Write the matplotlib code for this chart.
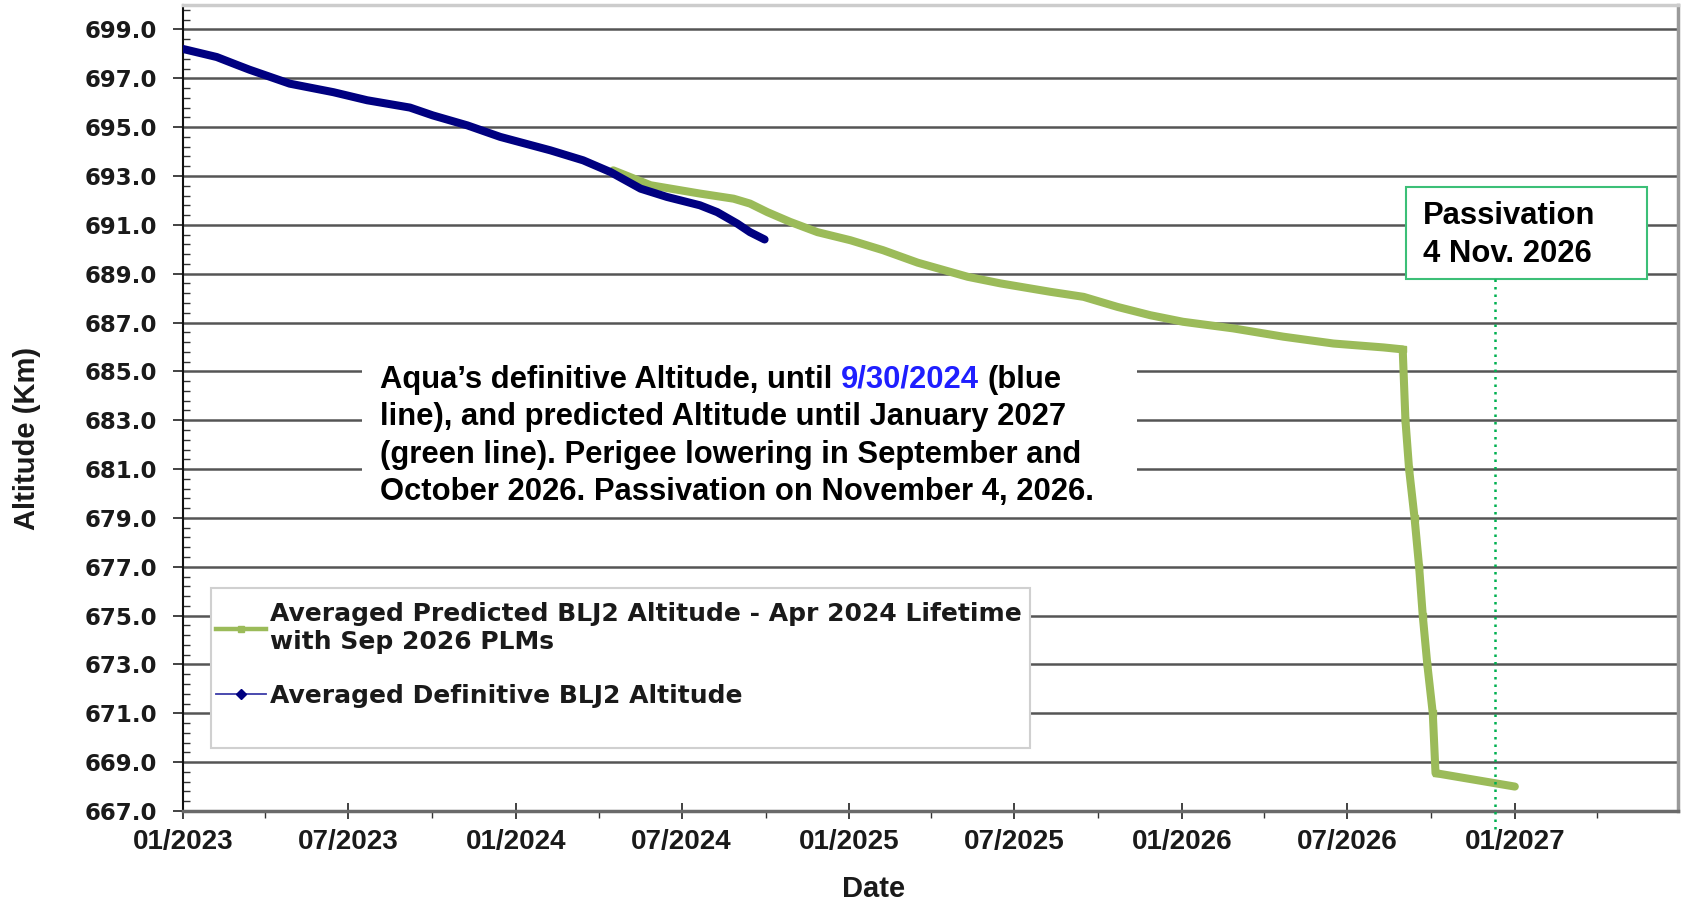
import matplotlib
matplotlib.use('Agg')
import matplotlib.pyplot as plt
import matplotlib.dates as mdates
import matplotlib.ticker as mticker
from matplotlib.patches import Rectangle
from matplotlib.lines import Line2D
import numpy as np
import pandas as pd

# ---------------- data ----------------
definitive_dates = ["2023-01-01", "2023-02-07", "2023-03-01", "2023-03-15", "2023-04-28",
                    "2023-06-15", "2023-07-22", "2023-09-07", "2023-10-02", "2023-11-09",
                    "2023-12-15", "2024-02-08", "2024-03-15", "2024-04-14", "2024-05-17",
                    "2024-06-15", "2024-07-21", "2024-08-09", "2024-08-31", "2024-09-14",
                    "2024-09-30"]
definitive_alt = [698.2, 697.87, 697.55, 697.35, 696.78,
                  696.43, 696.1, 695.8, 695.48, 695.07,
                  694.6, 694.05, 693.64, 693.16, 692.48,
                  692.14, 691.8, 691.52, 691.05, 690.7,
                  690.4]

predicted_dates = ["2024-04-17", "2024-05-28", "2024-07-21", "2024-08-27", "2024-09-14",
                   "2024-10-03", "2024-10-28", "2024-11-27", "2025-01-02", "2025-02-07",
                   "2025-03-17", "2025-04-22", "2025-05-11", "2025-06-16", "2025-08-09",
                   "2025-09-15", "2025-10-22", "2025-11-27", "2026-01-02", "2026-02-26",
                   "2026-04-22", "2026-06-16", "2026-08-10", "2026-08-31", "2026-09-03",
                   "2026-09-07", "2026-09-13", "2026-09-18", "2026-09-22", "2026-09-27",
                   "2026-10-03", "2026-10-06", "2027-01-01"]
predicted_alt = [693.23, 692.62, 692.28, 692.07, 691.87,
                 691.52, 691.12, 690.7, 690.37, 689.96,
                 689.45, 689.07, 688.87, 688.6, 688.26,
                 688.05, 687.64, 687.3, 687.03, 686.76,
                 686.42, 686.14, 685.98, 685.9, 683.0,
                 681.0, 679.0, 677.0, 675.0, 673.0,
                 671.0, 668.55, 668.0]

passivation_date = "2026-12-10"
passivation_label = "Passivation\n4 Nov. 2026"

legend_labels = ["Averaged Predicted BLJ2 Altitude - Apr 2024 Lifetime\nwith Sep 2026 PLMs",
                 "Averaged Definitive BLJ2 Altitude"]

note_lines = ["line), and predicted Altitude until January 2027",
              "(green line). Perigee lowering in September and",
              "October 2026. Passivation on November 4, 2026."]
note_first = ["Aqua\u2019s definitive Altitude, until", "9/30/2024", "(blue"]

y_ticks = np.arange(667, 700, 2)
y_minor = np.arange(667, 700.01, 0.4)

GREEN = '#9bbb59'
NAVY = '#000080'

# ---------------- figure ----------------
fig = plt.figure(figsize=(16.82, 9.02), dpi=100)
ax = fig.add_axes([183 / 1682, 91 / 902, 1495 / 1682, 806 / 902])

pred_x = pd.to_datetime(predicted_dates)
def_x = pd.to_datetime(definitive_dates)

drop_idx = list(range(23, 32))
ax.plot(pred_x, predicted_alt, color=GREEN, lw=5.8, marker='s', ms=4, markevery=drop_idx,
        solid_joinstyle='round', solid_capstyle='round', zorder=3)
ax.plot(def_x, definitive_alt, color=NAVY, lw=5.8,
        solid_joinstyle='round', solid_capstyle='round', zorder=4)

ax.set_xlim(pd.Timestamp("2023-01-01"), pd.Timestamp("2027-06-29"))
ax.set_ylim(667, 700)

# grid
ax.set_axisbelow(True)
ax.yaxis.grid(True, which='major', color='#555555', lw=1.8)

# ticks
ax.set_yticks(y_ticks)
ax.yaxis.set_minor_locator(mticker.FixedLocator(y_minor))
ax.yaxis.set_major_formatter(mticker.FormatStrFormatter('%.1f'))
ax.xaxis.set_major_locator(mdates.MonthLocator(bymonth=[1, 7]))
ax.xaxis.set_minor_locator(mdates.MonthLocator(bymonth=[4, 10]))
ax.xaxis.set_major_formatter(mdates.DateFormatter('%m/%Y'))

ax.tick_params(axis='y', which='major', direction='out', length=7.5, width=1.3,
               color='#333333', pad=11)
ax.tick_params(axis='y', which='minor', direction='in', length=5, width=1.0, color='#333333')
ax.tick_params(axis='x', which='major', direction='inout', length=11, width=1.3,
               color='#333333', pad=7.5)
ax.tick_params(axis='x', which='minor', direction='out', length=5, width=1.0, color='#333333')

for lab in ax.get_yticklabels():
    lab.set_fontfamily('DejaVu Sans')
    lab.set_fontweight('bold')
    lab.set_fontsize(16.5)
    lab.set_color('#1a1a1a')
for lab in ax.get_xticklabels():
    lab.set_fontfamily('Liberation Sans')
    lab.set_fontweight('bold')
    lab.set_fontsize(20)
    lab.set_color('#1a1a1a')

# spines
ax.spines['left'].set_color('#111111')
ax.spines['left'].set_linewidth(1.5)
ax.spines['bottom'].set_color('#6a6a6a')
ax.spines['bottom'].set_linewidth(2.5)
ax.spines['top'].set_color('#cccccc')
ax.spines['top'].set_linewidth(2.5)
ax.spines['right'].set_color('#9a9a9a')
ax.spines['right'].set_linewidth(2.5)

# axis labels
fig.text(27 / 1682, 1 - 438 / 902, "Altitude (Km)", rotation=90, ha='center', va='center',
         fontfamily='Liberation Sans', fontweight='bold', fontsize=21, color='#1a1a1a')
fig.text(874 / 1682, 1 - 889 / 902, "Date", ha='center', va='center',
         fontfamily='Liberation Sans', fontweight='bold', fontsize=21, color='#1a1a1a')

# ---------------- note box ----------------
def fx(px):
    return (px - 183) / 1495

def fy(py):
    return (811 - py) / 806

ax.add_patch(Rectangle((fx(362), fy(514)), fx(1137) - fx(362), fy(345) - fy(514),
                       transform=ax.transAxes, facecolor='white', edgecolor='none', zorder=2))
NOTE_SIZE = 22.3
note_font = dict(fontfamily='Liberation Sans', fontweight='bold', fontsize=NOTE_SIZE, color='black')
t1 = ax.text(fx(380), fy(380), note_first[0], transform=ax.transAxes, ha='left', va='center',
             zorder=6, **note_font)
t2 = ax.annotate(note_first[1], xy=(1, 0), xycoords=t1, xytext=(6, 0), textcoords='offset points',
                 ha='left', va='bottom', zorder=6, fontfamily='Liberation Sans', fontweight='bold',
                 fontsize=NOTE_SIZE, color='#1f1fff')
t3 = ax.annotate(note_first[2], xy=(1, 0), xycoords=t2, xytext=(6, 0), textcoords='offset points',
                 ha='left', va='bottom', zorder=6, **note_font)
for line, py in zip(note_lines, [417, 455, 492]):
    ax.text(fx(380), fy(py), line, transform=ax.transAxes, ha='left', va='center',
            zorder=6, **note_font)

# ---------------- passivation ----------------
ax.add_patch(Rectangle((fx(1406), fy(279)), fx(1647) - fx(1406), fy(187) - fy(279),
                       transform=ax.transAxes, facecolor='white', edgecolor='#3cbf77',
                       lw=1.5, zorder=5))
ax.text(fx(1423), fy(235), passivation_label, transform=ax.transAxes, ha='left', va='center',
        linespacing=1.33, zorder=6, **note_font)
pdate = pd.Timestamp(passivation_date)
ax.plot([pdate, pdate], [fy(279), fy(832)], transform=ax.get_xaxis_transform(),
        color='#00b050', lw=1.8, linestyle=(0, (1, 2)), clip_on=False, zorder=5)

# ---------------- legend ----------------
ax.add_patch(Rectangle((fx(211), fy(748)), fx(1030) - fx(211), fy(588) - fy(748),
                       transform=ax.transAxes, facecolor='white', edgecolor='#d0d0d0',
                       lw=1.5, zorder=5))
h_green = Line2D([], [], color=GREEN, lw=3.2, marker='s', ms=4)
h_blue = Line2D([], [], color='#3b3ba8', lw=1.3, marker='D', ms=5,
                markerfacecolor=NAVY, markeredgecolor=NAVY)
leg = ax.legend([h_green, h_blue], legend_labels, loc='upper left',
                bbox_to_anchor=(fx(216), fy(602)), frameon=False, borderpad=0,
                borderaxespad=0, handlelength=2.0, handletextpad=0.15, labelspacing=1.2,
                prop={'family': 'DejaVu Sans', 'weight': 'bold', 'size': 18})
leg.set_zorder(6)
for t in leg.get_texts():
    t.set_color('#1a1a1a')
    t.set_linespacing(1.2)

fig.savefig('out.png', dpi=100)
